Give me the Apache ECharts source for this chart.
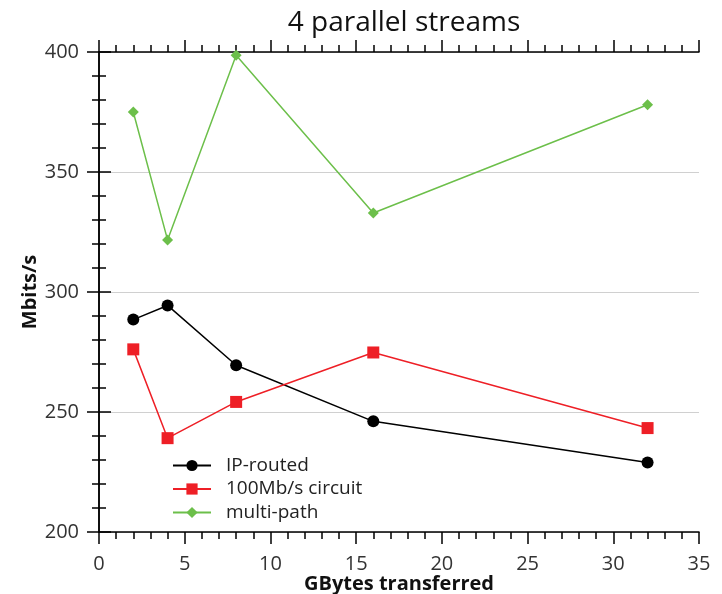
<!DOCTYPE html>
<html>
<head>
<meta charset="utf-8">
<script src="https://cdn.jsdelivr.net/npm/echarts@6/dist/echarts.min.js"></script>
<style>
  html, body { margin: 0; padding: 0; background: #fff; }
  #chart { width: 722px; height: 594px; }
</style>
</head>
<body>
<div id="chart"></div>
<script>
// Transfer sizes (GBytes) and measured throughput (Mbits/s)
const sizes = [2, 4, 8, 16, 32];
const ipRouted = [288.5, 294.4, 269.5, 246.1, 229.0];
const circuit100 = [276.1, 239.1, 254.2, 274.8, 243.3];
const multiPath = [375.0, 321.7, 398.6, 332.9, 378.0];

const xTicks = [0, 5, 10, 15, 20, 25, 30, 35];
const yTicks = [200, 250, 300, 350, 400];

const seriesNames = ['IP-routed', '100Mb/s circuit', 'multi-path'];

const pair = (vals) => sizes.map((s, i) => [s, vals[i]]);

const font = 'Open Sans, DejaVu Sans, sans-serif';
const axisLine = { show: true, lineStyle: { color: '#000', width: 1.5 } };
const axisTick = { show: true, inside: false, length: 12, lineStyle: { color: '#000', width: 1.5 } };
const minorTick = { show: true, splitNumber: 5, length: 7, lineStyle: { color: '#000', width: 1.5 } };

const chart = echarts.init(document.getElementById('chart'), null, { renderer: 'canvas' });
chart.setOption({
  animation: false,
  backgroundColor: '#fff',
  title: {
    text: '4 parallel streams',
    left: 399,
    top: 4,
    textAlign: 'center',
    textStyle: { fontFamily: font, fontSize: 28, fontWeight: 'normal', color: '#111' }
  },
  grid: { left: 99, right: 23, top: 52, bottom: 62, containLabel: false, outerBoundsMode: 'none' },
  legend: {
    orient: 'vertical',
    left: 167,
    top: 451,
    itemWidth: 38,
    itemHeight: 14,
    itemGap: 4.5,
    data: seriesNames,
    textStyle: { fontFamily: font, fontSize: 19, lineHeight: 19, color: '#222', padding: [0, 0, 0, 10] }
  },
  xAxis: [
    {
      type: 'value', position: 'bottom', min: xTicks[0], max: xTicks[xTicks.length - 1], interval: 5,
      axisLine, axisTick, minorTick, splitLine: { show: false },
      axisLabel: { fontFamily: font, fontSize: 20, color: '#333', margin: 22 },
      name: 'GBytes transferred', nameLocation: 'middle', nameGap: 42, nameMoveOverlap: false,
      nameTextStyle: { fontFamily: font, fontSize: 20, fontWeight: 'bold', color: '#111' }
    },
    {
      type: 'value', position: 'top', min: xTicks[0], max: xTicks[xTicks.length - 1], interval: 5,
      axisLine, axisTick, minorTick, splitLine: { show: false },
      axisLabel: { show: false }
    }
  ],
  yAxis: [
    {
      type: 'value', position: 'left', min: yTicks[0], max: yTicks[yTicks.length - 1], interval: 50,
      axisLine, axisTick, minorTick,
      splitLine: { show: true, lineStyle: { color: '#d0d0d0', width: 1 } },
      axisLabel: { fontFamily: font, fontSize: 20, color: '#333', margin: 20 },
      name: 'Mbits/s', nameLocation: 'middle', nameGap: 59, nameRotate: 90, nameMoveOverlap: false,
      nameTextStyle: { fontFamily: font, fontSize: 20, fontWeight: 'bold', color: '#111' }
    },
    {
      type: 'value', position: 'right', min: yTicks[0], max: yTicks[yTicks.length - 1], interval: 50,
      axisLine, axisTick, minorTick, splitLine: { show: false },
      axisLabel: { show: false }
    }
  ],
  series: [
    {
      name: seriesNames[0], type: 'line', data: pair(ipRouted),
      symbol: 'circle', symbolSize: 12,
      itemStyle: { color: '#000' }, lineStyle: { color: '#000', width: 1.5 }
    },
    {
      name: seriesNames[1], type: 'line', data: pair(circuit100),
      symbol: 'rect', symbolSize: 12,
      itemStyle: { color: '#ee1f26' }, lineStyle: { color: '#ee1f26', width: 1.5 }
    },
    {
      name: seriesNames[2], type: 'line', data: pair(multiPath),
      symbol: 'diamond', symbolSize: 11,
      itemStyle: { color: '#6cbf4a' }, lineStyle: { color: '#6cbf4a', width: 1.5 }
    }
  ]
});
</script>
</body>
</html>
